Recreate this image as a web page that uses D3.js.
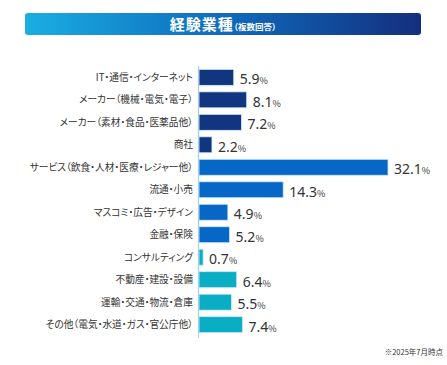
<!DOCTYPE html>
<html>
<head>
<meta charset="utf-8">
<script src="https://cdn.jsdelivr.net/npm/d3@7"></script>
<style>
  body { margin: 0; background: #fff; }
  svg { display: block; font-family: "Noto Sans CJK JP", "Noto Sans", sans-serif; }
  .cat, .note { font-feature-settings: "palt"; }
</style>
</head>
<body>
<svg width="447" height="365"></svg>
<script>
const categories = [
  "IT・通信・インターネット",
  "メーカー（機械・電気・電子）",
  "メーカー（素材・食品・医薬品他）",
  "商社",
  "サービス（飲食・人材・医療・レジャー他）",
  "流通・小売",
  "マスコミ・広告・デザイン",
  "金融・保険",
  "コンサルティング",
  "不動産・建設・設備",
  "運輸・交通・物流・倉庫",
  "その他（電気・水道・ガス・官公庁他）"
];
const values = [5.9, 8.1, 7.2, 2.2, 32.1, 14.3, 4.9, 5.2, 0.7, 6.4, 5.5, 7.4];
const groups = [0, 0, 0, 0, 1, 1, 1, 1, 2, 2, 2, 2];
const groupColors = ["#123580", "#0767c7", "#0aaec4"];

let svg = d3.select("svg");

// title bar
let defs = svg.append("defs");
let grad = defs.append("linearGradient").attr("id", "tg");
grad.append("stop").attr("offset", "0%").attr("stop-color", "#1aaee2");
grad.append("stop").attr("offset", "50%").attr("stop-color", "#0f6bbd");
grad.append("stop").attr("offset", "100%").attr("stop-color", "#142f7e");

svg.append("rect")
  .attr("x", 25).attr("y", 13)
  .attr("width", 396).attr("height", 22)
  .attr("rx", 3)
  .style("fill", "url(#tg)");

let title = svg.append("text")
  .attr("x", 223).attr("y", 29.5)
  .attr("text-anchor", "middle")
  .style("fill", "#fff")
  .style("font-weight", "bold");
title.append("tspan").style("font-size", "15px").style("letter-spacing", "1px").text("経験業種");
title.append("tspan").style("font-size", "8.5px").style("font-feature-settings", "'palt'").text("（複数回答）");

let margin = { left: 199, top: 66 };
let x = d3.scaleLinear().domain([0, 32.1]).range([0, 189]);
let y = d3.scaleBand().domain(categories).range([0, 270]).paddingInner(0.29).paddingOuter(0.15);

let g = svg.append("g")
  .attr("transform", "translate(" + margin.left + "," + margin.top + ")");

g.selectAll(".bar")
  .data(categories)
  .enter()
  .append("rect")
  .attr("class", "bar")
  .attr("x", 0)
  .attr("y", d => y(d))
  .attr("width", (d, i) => x(values[i]))
  .attr("height", y.bandwidth())
  .style("fill", (d, i) => groupColors[groups[i]])
  .style("stroke", "#cfe9f6")
  .style("stroke-width", 0.8);

g.append("line")
  .attr("x1", -0.5).attr("x2", -0.5)
  .attr("y1", 0).attr("y2", 272)
  .style("stroke", "#9fd0ee")
  .style("stroke-width", 1.2);

g.selectAll(".cat")
  .data(categories)
  .enter()
  .append("text")
  .attr("class", "cat")
  .attr("x", -6)
  .attr("y", d => y(d) + y.bandwidth() / 2 + 3.4)
  .attr("text-anchor", "end")
  .style("font-size", "9.7px")
  .style("fill", "#333")
  .text(d => d);

let vals = g.selectAll(".val")
  .data(values)
  .enter()
  .append("text")
  .attr("class", "val")
  .attr("x", d => x(d) + 6)
  .attr("y", (d, i) => y(categories[i]) + y.bandwidth() / 2 + 7)
  .style("fill", "#333");
vals.append("tspan").style("font-size", "14px").style("font-family", "'Noto Sans', sans-serif").text(d => d.toFixed(1));
vals.append("tspan").style("font-size", "9px").text("%");

svg.append("text")
  .attr("class", "note")
  .attr("x", 443).attr("y", 355)
  .attr("text-anchor", "end")
  .style("font-size", "7.5px")
  .style("fill", "#333")
  .text("※2025年7月時点");
</script>
</body>
</html>
